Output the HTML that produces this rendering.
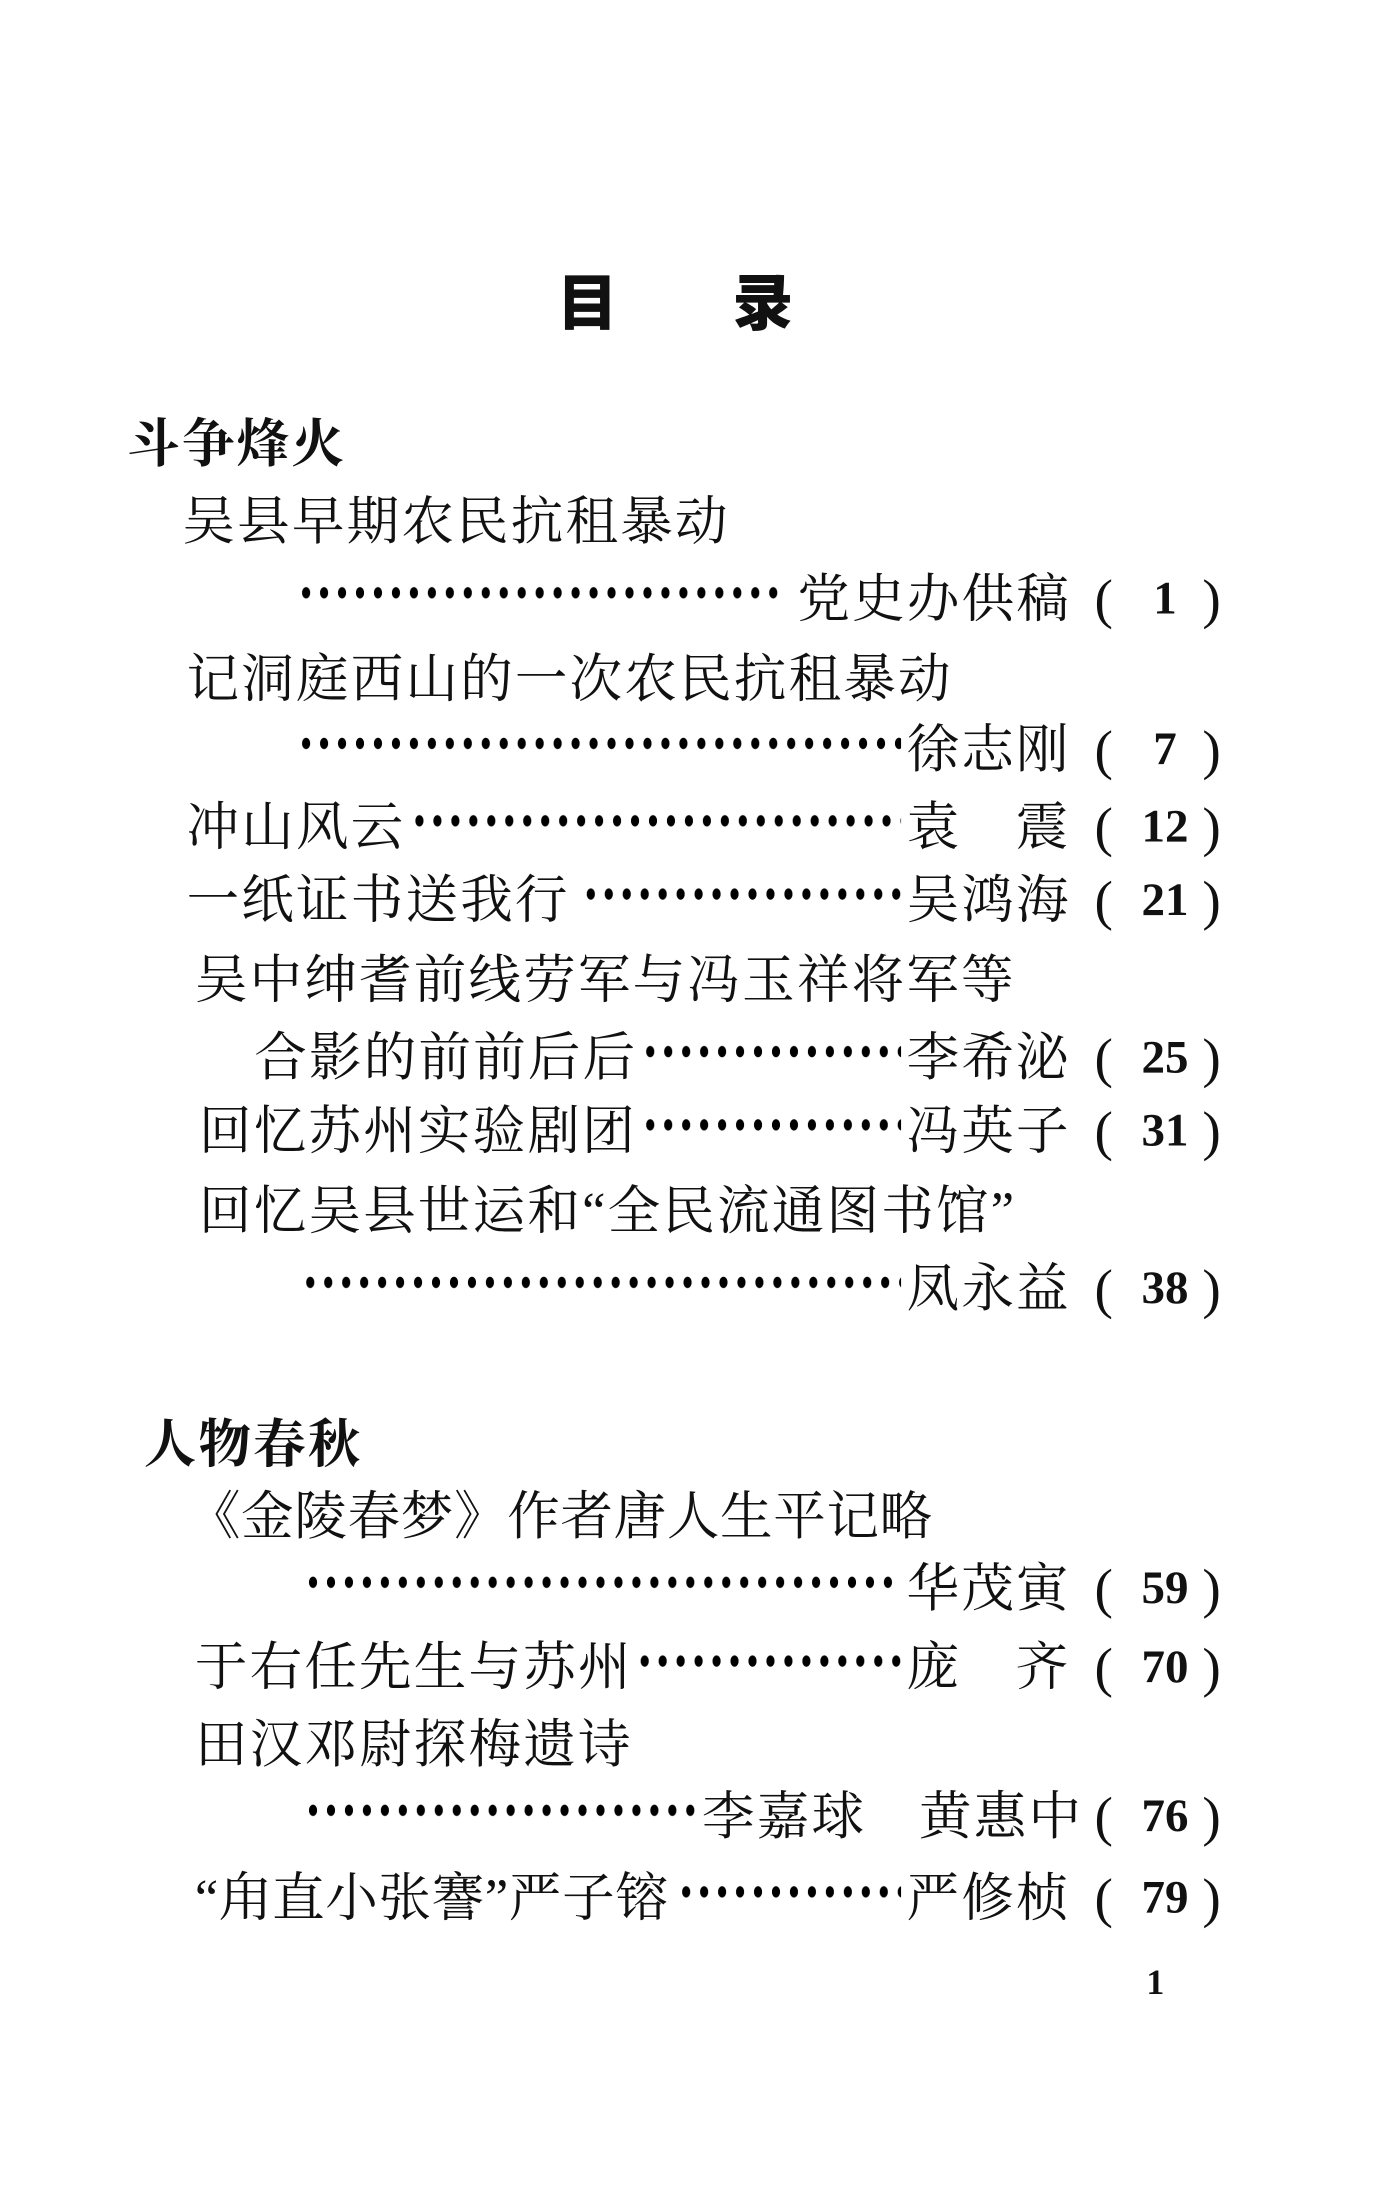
<!DOCTYPE html>
<html><head><meta charset="utf-8"><style>
html,body{margin:0;padding:0;background:#fff;}
#pg{position:relative;width:1382px;height:2204px;overflow:hidden;background:#fff;}
#w{position:absolute;left:0;top:-7px;width:1000px;height:1595px;transform:scale(1.382);transform-origin:0 0;}
.t{position:absolute;white-space:nowrap;font-family:"Liberation Serif","Noto Serif CJK SC",serif;font-size:38px;line-height:44px;height:44px;color:#111;letter-spacing:1.6px;}
.d{position:absolute;height:10px;background-image:radial-gradient(ellipse 3.1px 4.3px at 50% 50%,#000 90%,transparent 100%);background-size:13px 10px;background-repeat:repeat-x;}
.h{font-family:"Liberation Sans","Noto Sans CJK SC",sans-serif;font-weight:bold;}
.pn{position:absolute;width:60px;text-align:center;font-family:"Liberation Serif",serif;font-size:34px;font-weight:bold;line-height:44px;color:#111;}
.p{position:absolute;font-family:"Liberation Serif",serif;font-size:40px;line-height:44px;color:#111;}
</style></head><body><div id="pg"><div id="w">
<div class="t h" style="left:403px;top:200px;font-size:44px;line-height:52px;font-weight:900">目</div>
<div class="t h" style="left:530px;top:200px;font-size:44px;line-height:52px;font-weight:900">录</div>

<div class="t" style="left:92px;top:305px;font-weight:bold">斗争烽火</div>
<div class="t" style="left:132px;top:361px">吴县早期农民抗租暴动</div>
<div class="d" style="left:215px;top:429px;width:350px"></div>
<div class="t" style="left:577px;top:417px">党史办供稿</div>

<div class="t" style="left:135px;top:475px">记洞庭西山的一次农民抗租暴动</div>
<div class="d" style="left:215px;top:538px;width:437px"></div>
<div class="t" style="left:656px;top:526px">徐志刚</div>

<div class="t" style="left:135px;top:582px">冲山风云</div>
<div class="d" style="left:297px;top:594px;width:355px"></div>
<div class="t" style="left:656px;top:582px">袁</div><div class="t" style="left:735px;top:582px">震</div>

<div class="t" style="left:135px;top:635px">一纸证书送我行</div>
<div class="d" style="left:421px;top:647px;width:231px"></div>
<div class="t" style="left:656px;top:635px">吴鸿海</div>

<div class="t" style="left:141px;top:693px">吴中绅耆前线劳军与冯玉祥将军等</div>
<div class="t" style="left:184px;top:749px">合影的前前后后</div>
<div class="d" style="left:464px;top:761px;width:188px"></div>
<div class="t" style="left:656px;top:749px">李希泌</div>

<div class="t" style="left:144px;top:802px">回忆苏州实验剧团</div>
<div class="d" style="left:464px;top:814px;width:188px"></div>
<div class="t" style="left:656px;top:802px">冯英子</div>

<div class="t" style="left:144px;top:860px">回忆吴县世运和“全民流通图书馆”</div>
<div class="d" style="left:218px;top:928px;width:434px"></div>
<div class="t" style="left:656px;top:916px">凤永益</div>

<div class="t" style="left:104px;top:1029px;font-weight:bold">人物春秋</div>
<div class="t" style="left:136px;top:1081px;letter-spacing:0.5px">《金陵春梦》作者唐人生平记略</div>
<div class="d" style="left:220px;top:1145px;width:432px"></div>
<div class="t" style="left:656px;top:1133px">华茂寅</div>

<div class="t" style="left:141px;top:1190px">于右任先生与苏州</div>
<div class="d" style="left:460px;top:1202px;width:192px"></div>
<div class="t" style="left:656px;top:1190px">庞</div><div class="t" style="left:735px;top:1190px">齐</div>

<div class="t" style="left:141px;top:1246px">田汉邓尉探梅遗诗</div>
<div class="d" style="left:220px;top:1310px;width:284px"></div>
<div class="t" style="left:508px;top:1298px">李嘉球</div>
<div class="t" style="left:665px;top:1298px">黄惠中</div>

<div class="t" style="left:141px;top:1357px;letter-spacing:0.5px">“甪直小张謇”严子镕</div>
<div class="d" style="left:490px;top:1369px;width:162px"></div>
<div class="t" style="left:656px;top:1357px">严修桢</div>

<div class="p" style="left:792px;top:417px">(</div><div class="pn" style="left:813px;top:417px">1</div><div class="p" style="left:870px;top:417px">)</div>
<div class="p" style="left:792px;top:526px">(</div><div class="pn" style="left:813px;top:526px">7</div><div class="p" style="left:870px;top:526px">)</div>
<div class="p" style="left:792px;top:582px">(</div><div class="pn" style="left:813px;top:582px">12</div><div class="p" style="left:870px;top:582px">)</div>
<div class="p" style="left:792px;top:635px">(</div><div class="pn" style="left:813px;top:635px">21</div><div class="p" style="left:870px;top:635px">)</div>
<div class="p" style="left:792px;top:749px">(</div><div class="pn" style="left:813px;top:749px">25</div><div class="p" style="left:870px;top:749px">)</div>
<div class="p" style="left:792px;top:802px">(</div><div class="pn" style="left:813px;top:802px">31</div><div class="p" style="left:870px;top:802px">)</div>
<div class="p" style="left:792px;top:916px">(</div><div class="pn" style="left:813px;top:916px">38</div><div class="p" style="left:870px;top:916px">)</div>
<div class="p" style="left:792px;top:1133px">(</div><div class="pn" style="left:813px;top:1133px">59</div><div class="p" style="left:870px;top:1133px">)</div>
<div class="p" style="left:792px;top:1190px">(</div><div class="pn" style="left:813px;top:1190px">70</div><div class="p" style="left:870px;top:1190px">)</div>
<div class="p" style="left:792px;top:1298px">(</div><div class="pn" style="left:813px;top:1298px">76</div><div class="p" style="left:870px;top:1298px">)</div>
<div class="p" style="left:792px;top:1357px">(</div><div class="pn" style="left:813px;top:1357px">79</div><div class="p" style="left:870px;top:1357px">)</div>

<div class="pn" style="left:806px;top:1418px;font-size:26px;font-weight:bold">1</div>
</div></div></body></html>
